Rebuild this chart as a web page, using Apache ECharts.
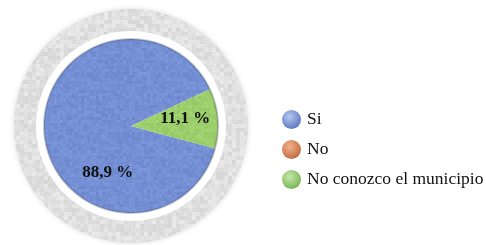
<!DOCTYPE html>
<html><head><meta charset="utf-8">
<script src="https://cdn.jsdelivr.net/npm/echarts@6/dist/echarts.min.js"></script>
<style>html,body{margin:0;padding:0;background:#fff}#c{width:486px;height:245px}</style>
</head><body><div id="c"></div>
<script>
const categories = ['Si', 'No', 'No conozco el municipio'];
const values = [88.9, 0, 11.1];
const valueLabels = ['88,9 %', '', '11,1 %'];

const sliceRGB = [[116, 143, 212], [217, 138, 94], [156, 206, 108]];
const legendHi = ['#b5c7f0', '#f2b28c', '#c6e8aa'];
const legendLo = ['#5a75bf', '#bf683c', '#74b34e'];
const labelOffsets = [[23, 43], [0, 0], [8, -3]];

// deterministic speckle texture (decoration only)
function hash(x, y) { const s = Math.sin(x * 12.9898 + y * 78.233) * 43758.5453; return s - Math.floor(s); }
function texture(rgb, amp, size, cell) {
  const c = document.createElement('canvas'); c.width = c.height = size;
  const ctx = c.getContext('2d'); const img = ctx.createImageData(size, size);
  for (let y = 0; y < size; y++) for (let x = 0; x < size; x++) {
    const n = (0.35 * hash(x, y) + 0.65 * hash(Math.floor(x / cell), Math.floor(y / cell)) - 0.5) * amp;
    const k = (y * size + x) * 4;
    img.data[k] = rgb[0] + n; img.data[k + 1] = rgb[1] + n; img.data[k + 2] = rgb[2] + n; img.data[k + 3] = 255;
  }
  ctx.putImageData(img, 0, 0); return c;
}

const chart = echarts.init(document.getElementById('c'), null, {renderer: 'canvas'});
const center = [131, 126];

const data = categories.map((n, i) => ({
  name: n, value: values[i],
  itemStyle: {color: {image: texture(sliceRGB[i], 22, 96, 3), repeat: 'repeat'}},
  label: {show: values[i] > 0, offset: labelOffsets[i], formatter: valueLabels[i]}
}));

chart.setOption({
  animation: false,
  legend: {
    orient: 'vertical', left: 277, top: 105, icon: 'circle',
    itemWidth: 19, itemHeight: 19, itemGap: 11,
    textStyle: {fontFamily: 'Liberation Serif', fontSize: 17.5, color: '#111', padding: [0, 0, 0, 1]},
    data: categories.map((n, i) => ({
      name: n,
      itemStyle: {color: {type: 'radial', x: 0.4, y: 0.35, r: 0.7,
        colorStops: [{offset: 0, color: legendHi[i]}, {offset: 1, color: legendLo[i]}]}}
    }))
  },
  series: [
    {type: 'pie', silent: true, center: center, radius: 117, label: {show: false},
     itemStyle: {color: {image: texture([224, 224, 224], 30, 128, 4), repeat: 'repeat'},
       shadowBlur: 5, shadowColor: 'rgba(215,215,215,0.9)'},
     data: [{value: 1, name: 'bg'}], legendHoverLink: false},
    {type: 'pie', silent: true, center: center, radius: 95, label: {show: false},
     itemStyle: {color: '#ffffff'}, data: [{value: 1, name: 'ring'}]},
    {type: 'pie', center: center, radius: 87, startAngle: -15, clockwise: true,
     avoidLabelOverlap: false, labelLine: {show: false},
     itemStyle: {borderWidth: 0},
     label: {position: 'inside', fontFamily: 'Liberation Serif', fontWeight: 'bold', fontSize: 17, color: '#111'},
     data: data},
    {type: 'pie', silent: true, center: center, radius: [86, 88], label: {show: false},
     itemStyle: {color: 'rgba(60,70,90,0.3)'}, data: [{value: 1, name: 'edge'}]}
  ]
});
</script></body></html>
